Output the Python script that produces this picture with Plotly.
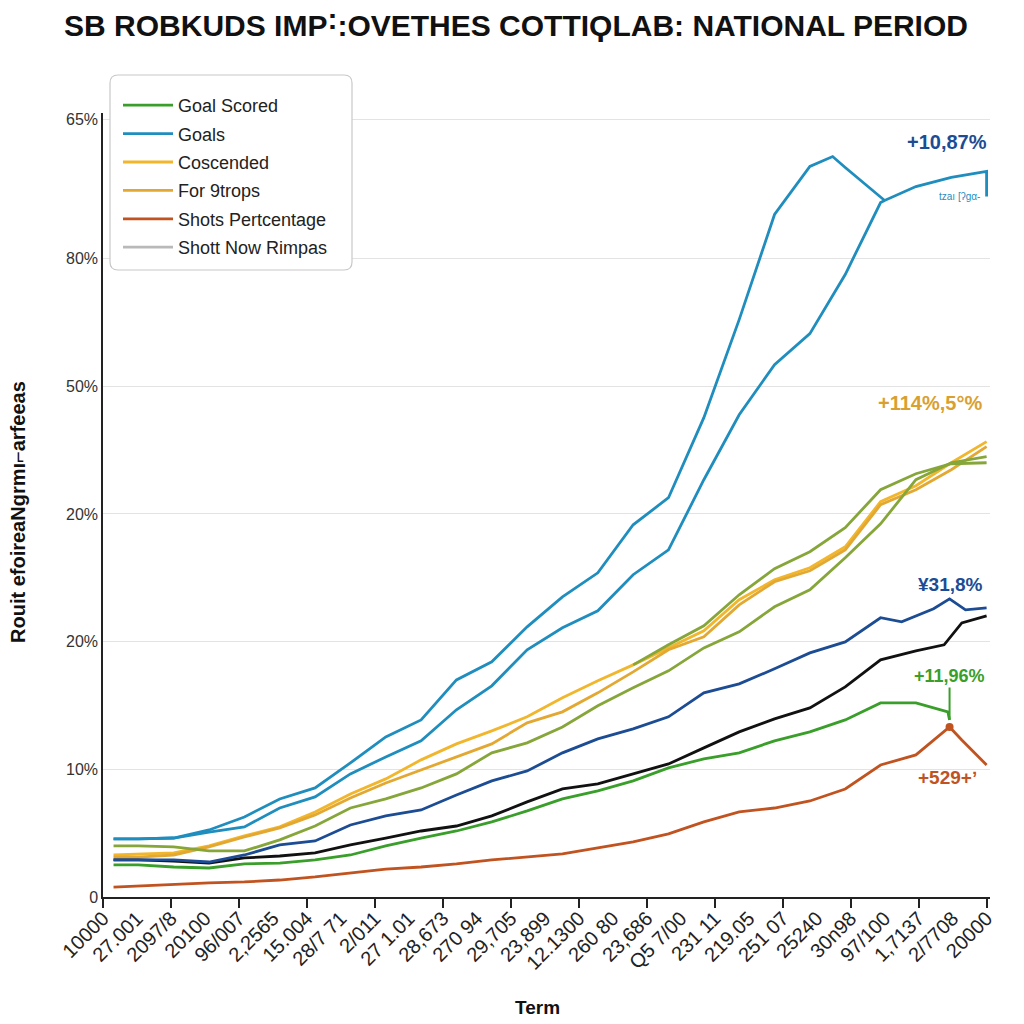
import plotly.graph_objects as go

# ---------------- data ----------------
TITLE = "SB ROBKUDS IMP\u02f8:OVETHES COTTI\u03d8LAB: NATIONAL PERIOD"
X_LABELS = ["10000", "27.001", "2097/8", "20100", "96/007", "2,2565", "15.004", "28/7 71",
            "2/011", "27 1.01", "28,673", "270 94", "29,705", "23,899", "12.1300", "260 80",
            "23,686", "Q5 7/00", "231 11", "219.05", "251 07", "25240", "30n98", "97/100",
            "1,7137", "2/7708", "20000"]
Y_TICKS = [0, 10, 20, 30, 40, 50, 60.9]
Y_LABELS = ["0", "10%", "20%", "20%", "50%", "80%", "65%"]

X = [0.31, 1.04, 2.08, 3.12, 4.16, 5.2, 6.24, 7.28, 8.32, 9.36, 10.4, 11.44, 12.48,
     13.52, 14.56, 15.6, 16.64, 17.68, 18.72, 19.76, 20.8, 21.84, 22.88, 23.92, 24.96, 26.0]

goals_a_x = X[:21] + [21.47, 21.84, 23.0, 23.92, 24.96, 26.0, 26.0]
goals_a = [4.55, 4.55, 4.62, 5.25, 6.27, 7.68, 8.54, 10.50, 12.54, 13.87, 17.0, 18.42, 21.16,
           23.51, 25.39, 29.15, 31.27, 37.54, 45.22, 53.45, 57.21, 57.99, 57.13, 54.55,
           55.64, 56.35, 56.82, 54.86]

goals_b_x = X[:23] + [23.0]
goals_b = [4.55, 4.55, 4.62, 5.09, 5.49, 6.97, 7.84, 9.64, 10.97, 12.23, 14.66, 16.54, 19.36,
           21.08, 22.41, 25.24, 27.19, 32.68, 37.77, 41.69, 44.12, 48.75, 54.39, 54.55]

gold_a = [3.29, 3.37, 3.45, 4.0, 4.78, 5.49, 6.66, 8.07, 9.25, 10.74, 11.99, 13.01, 14.11,
          15.60, 16.93, 18.18, 19.51, 20.85, 23.28, 24.84, 25.78, 27.43, 30.96, 32.21, 34.01, 35.66]
gold_b = [3.13, 3.13, 3.29, 3.92, 4.70, 5.41, 6.43, 7.76, 8.93, 9.95, 10.97, 11.99, 13.64,
          14.50, 15.99, 17.63, 19.36, 20.38, 22.88, 24.69, 25.55, 27.19, 30.72, 31.90, 33.46, 35.27]
olive_a = [4.0, 4.0, 3.92, 3.61, 3.61, 4.47, 5.56, 6.97, 7.68, 8.54, 9.64, 11.29, 12.07,
           13.32, 14.97, 16.38, 17.71, 19.51, 20.77, 22.73, 24.06, 26.57, 29.23, 32.68, 34.01, 34.48]
olive_b_x = X[15:]
olive_b = [18.18, 19.75, 21.24, 23.67, 25.71, 27.04, 28.92, 31.90, 33.15, 33.93, 34.01]

navy_x = X[:23] + [23.5, 23.92, 24.44, 24.91, 25.38, 26.0]
navy = [2.90, 2.90, 2.90, 2.74, 3.29, 4.08, 4.39, 5.64, 6.35, 6.82, 7.99, 9.09, 9.87, 11.29,
        12.38, 13.17, 14.11, 15.99, 16.69, 17.87, 19.12, 19.98, 21.87, 21.55, 22.02, 22.57,
        23.35, 22.49, 22.65]

black_x = X[:24] + [24.75, 25.27, 26.0]
black = [2.90, 2.90, 2.82, 2.66, 3.06, 3.21, 3.45, 4.08, 4.62, 5.17, 5.56, 6.35, 7.45, 8.46,
         8.86, 9.64, 10.42, 11.68, 12.93, 13.95, 14.81, 16.46, 18.57, 19.28, 19.75, 21.47, 22.02]

green_x = X[:24] + [24.86, 24.91]
green = [2.51, 2.51, 2.35, 2.27, 2.59, 2.66, 2.90, 3.29, 4.0, 4.62, 5.17, 5.88, 6.74, 7.68,
         8.31, 9.09, 10.11, 10.82, 11.29, 12.23, 12.93, 13.87, 15.20, 15.20, 14.50, 13.87]

red_x = X[:24] + [24.91, 25.27, 26.0]
red = [0.78, 0.86, 1.02, 1.10, 1.18, 1.33, 1.57, 1.88, 2.19, 2.35, 2.59, 2.90, 3.13, 3.37,
       3.84, 4.31, 4.94, 5.88, 6.66, 6.97, 7.52, 8.46, 10.34, 11.13, 13.32, 12.30, 10.34]
red_peak_x = [24.91]
red_peak = [13.32]

# ---------------- figure ----------------
LB = "#1f8dbd"
GOLD_A = "#f1b62c"
GOLD_B = "#e3a832"
OLIVE = "#86a63a"
NAVY = "#1c4c93"
BLACK = "#111111"
GREEN = "#3a9e2a"
RED = "#c0531f"

# the page body has an 8px margin; the figure is sized so the plot lands where the reference has it
W = H = 1016
PL, PR, PT, PB = 95, 34, 105, 127
PW, PH = W - PL - PR, H - PT - PB

fig = go.Figure()

def line(x, y, color, name=None, show=False, rank=100, width=2.8):
    fig.add_trace(go.Scatter(x=x, y=y, mode="lines", name=name, showlegend=show,
                             legendrank=rank, legendgroup=name or "g" + str(len(fig.data)),
                             line=dict(color=color, width=width)))

line(green_x, green, GREEN, "Goal Scored", True, 1)
line(goals_a_x, goals_a, LB, "Goals", True, 2)
line(X, gold_a, GOLD_A, "Coscended", True, 3)
line(X, gold_b, GOLD_B, "For 9trops", True, 4)
line(red_x, red, RED, "Shots Pertcentage", True, 5)
fig.add_trace(go.Scatter(x=[None], y=[None], mode="lines", name="Shott Now Rimpas",
                         legendrank=6, legendgroup="gray",
                         line=dict(color="#b9b9b9", width=2.8)))
line(black_x, black, BLACK)
line(navy_x, navy, NAVY)
line(X, olive_a, OLIVE)
line(olive_b_x, olive_b, OLIVE)
line(goals_b_x, goals_b, LB)
fig.add_trace(go.Scatter(x=red_peak_x, y=red_peak, mode="markers", showlegend=False,
                         marker=dict(color=RED, size=8)))

ann_font = "Liberation Sans, Arial, sans-serif"
annos = [
    dict(x=24.82, y=59.1, text="<b>+10,87%</b>", color=NAVY, size=20),
    dict(x=24.32, y=38.7, text="<b>+114%,5\u00b0%</b>", color="#d9a030", size=20),
    dict(x=24.94, y=24.45, text="<b>\u00a531,8%</b>", color=NAVY, size=19),
    dict(x=24.85, y=9.33, text="<b>+529+\u02bc</b>", color=RED, size=19),
    dict(x=25.2, y=54.9, text="tzaı [ʔgα-", color=LB, size=10),
]
for a in annos:
    fig.add_annotation(x=a["x"], y=a["y"], text=a["text"], showarrow=False,
                       font=dict(family=ann_font, size=a["size"], color=a["color"]))
fig.add_annotation(x=24.91, y=13.87, text="<b>+11,96%</b>", showarrow=True, arrowhead=0,
                   arrowwidth=2, arrowcolor=GREEN, ax=0, ay=-44,
                   font=dict(family=ann_font, size=18, color=GREEN))

def px_x(px):
    return (px - 8 - PL) / PW

def px_y(py):
    return (H - PB - (py - 8)) / PH

# axis titles
fig.add_annotation(xref="paper", yref="paper", x=px_x(18), y=px_y(512), textangle=-90,
                   xanchor="center", yanchor="middle",
                   text="<b>Rouit efoireaNgrm\u0131\u2310arfeeas</b>", showarrow=False,
                   font=dict(family=ann_font, size=20, color="#111"))
fig.add_annotation(xref="paper", yref="paper", x=px_x(537), y=px_y(1007), text="<b>Term</b>",
                   xanchor="center", yanchor="middle",
                   showarrow=False, font=dict(family=ann_font, size=19, color="#111"))

# legend rounded box
x0, x1 = px_x(110), px_x(352)
y1, y0 = px_y(75), px_y(270)
rx, ry = 8 / PW, 8 / PH
path = (f"M {x0+rx},{y0} L {x1-rx},{y0} Q {x1},{y0} {x1},{y0+ry} L {x1},{y1-ry} "
        f"Q {x1},{y1} {x1-rx},{y1} L {x0+rx},{y1} Q {x0},{y1} {x0},{y1-ry} "
        f"L {x0},{y0+ry} Q {x0},{y0} {x0+rx},{y0} Z")
fig.add_shape(type="path", path=path, xref="paper", yref="paper",
              line=dict(color="#c8c8c8", width=1.2), fillcolor="white", layer="above")

fig.update_layout(
    width=W, height=H,
    margin=dict(l=PL, r=PR, t=PT, b=PB),
    paper_bgcolor="white", plot_bgcolor="white",
    title=dict(text=f"<b>{TITLE}</b>", x=0.5, xanchor="center", y=1 - 17 / H, yanchor="middle",
               font=dict(family="Liberation Sans, Arial, sans-serif", size=30, color="#111")),
    legend=dict(x=px_x(118), y=px_y(87), xanchor="left", yanchor="top",
                bgcolor="rgba(0,0,0,0)", borderwidth=0, tracegroupgap=2, itemwidth=50,
                font=dict(family=ann_font, size=18, color="#222"), traceorder="grouped"),
    showlegend=True,
)
fig.update_xaxes(range=[0, 26.1], tickvals=list(range(27)), ticktext=X_LABELS,
                 tickangle=-45, ticks="", showgrid=False, zeroline=False,
                 showline=True, linecolor="#222", linewidth=1.5,
                 tickfont=dict(family=ann_font, size=20, color="#222"),
                 minor=dict(tickvals=list(range(0, 27, 2)), ticks="outside", ticklen=9,
                            tickcolor="#222", tickwidth=1.5, showgrid=False))
fig.update_yaxes(range=[0, 61.4], tickvals=Y_TICKS, ticktext=Y_LABELS, showgrid=True,
                 gridcolor="#e3e3e3", gridwidth=1, zeroline=False,
                 showline=True, linecolor="#222", linewidth=1.5, ticks="",
                 tickfont=dict(family=ann_font, size=16, color="#333"))

fig.write_html("out.html")
